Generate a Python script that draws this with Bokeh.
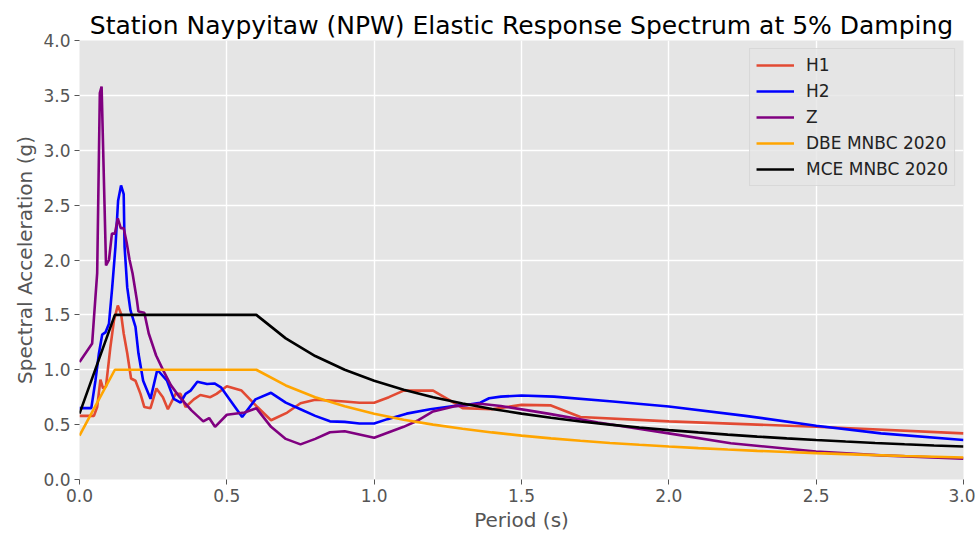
from bokeh.plotting import figure
from bokeh.embed import file_html
from bokeh.resources import INLINE
from bokeh.models import FixedTicker, NumeralTickFormatter, Legend, LegendItem, Range1d

# ---- data ----
h1_t = [0, 0.049, 0.06, 0.071, 0.08, 0.09, 0.105, 0.117, 0.13, 0.141, 0.15, 0.162, 0.175, 0.19,
        0.207, 0.22, 0.241, 0.261, 0.283, 0.3, 0.326, 0.343, 0.36, 0.388, 0.41, 0.444, 0.465,
        0.5, 0.55, 0.6, 0.65, 0.705, 0.75, 0.8, 0.85, 0.9, 0.95, 1.0, 1.05, 1.1, 1.2, 1.27, 1.3,
        1.4, 1.5, 1.6, 1.7, 2.0, 2.5, 3.0]
h1_sa = [0.58, 0.58, 0.66, 0.91, 0.83, 0.85, 1.21, 1.45, 1.585, 1.51, 1.33, 1.15, 0.92, 0.90,
         0.78, 0.66, 0.65, 0.83, 0.75, 0.64, 0.78, 0.78, 0.66, 0.73, 0.77, 0.75, 0.78,
         0.85, 0.81, 0.67, 0.54, 0.61, 0.695, 0.726, 0.72, 0.71, 0.70, 0.70, 0.75, 0.81, 0.81, 0.70, 0.65,
         0.64, 0.68, 0.675, 0.57, 0.53, 0.48, 0.42]

h2_t = [0, 0.04, 0.054, 0.066, 0.077, 0.088, 0.1, 0.111, 0.122, 0.131, 0.141, 0.15, 0.153, 0.162,
        0.173, 0.19, 0.2, 0.216, 0.241, 0.264, 0.297, 0.32, 0.343, 0.36, 0.377, 0.4, 0.433, 0.458,
        0.48, 0.512, 0.552, 0.597, 0.65, 0.7, 0.75, 0.8, 0.85, 0.9, 0.95, 1.0, 1.045, 1.11, 1.19,
        1.27, 1.316, 1.36, 1.39, 1.43, 1.5, 1.61, 1.81, 2.0, 2.26, 2.5, 2.72, 3.0]
h2_sa = [0.65, 0.65, 0.90, 1.15, 1.32, 1.34, 1.42, 1.75, 2.12, 2.54, 2.68, 2.60, 2.12, 1.75,
         1.54, 1.39, 1.15, 0.90, 0.735, 1.0, 0.90, 0.735, 0.70, 0.78, 0.81, 0.89, 0.87, 0.875,
         0.84, 0.72, 0.57, 0.73, 0.79, 0.70, 0.64, 0.58, 0.53, 0.525, 0.51, 0.51, 0.55, 0.60, 0.64,
         0.67, 0.68, 0.70, 0.74, 0.755, 0.765, 0.755, 0.71, 0.665, 0.58, 0.49, 0.42, 0.36]

z_t = [0, 0.043, 0.049, 0.06, 0.069, 0.075, 0.09, 0.1, 0.11, 0.12, 0.13, 0.14, 0.15, 0.16, 0.17,
       0.18, 0.195, 0.2, 0.22, 0.235, 0.26, 0.285, 0.31, 0.34, 0.38, 0.42, 0.44, 0.46, 0.5, 0.56,
       0.6, 0.65, 0.7, 0.75, 0.8, 0.85, 0.9, 0.95, 1.0, 1.05, 1.1, 1.15, 1.2, 1.27, 1.32, 1.36,
       1.43, 1.59, 1.76, 2.0, 2.21, 2.5, 2.72, 3.0]
z_sa = [1.07, 1.24, 1.47, 1.88, 3.52, 3.58, 1.95, 2.0, 2.24, 2.24, 2.38, 2.29, 2.29, 2.16, 2.0,
        1.88, 1.63, 1.53, 1.52, 1.33, 1.13, 0.99, 0.86, 0.75, 0.63, 0.53, 0.56, 0.48, 0.59, 0.61,
        0.65, 0.48, 0.37, 0.32, 0.37, 0.43, 0.44, 0.41, 0.38, 0.43, 0.48, 0.54, 0.62, 0.665, 0.68, 0.69,
        0.67, 0.60, 0.52, 0.42, 0.33, 0.255, 0.22, 0.19]

code_t = [0, 0.12, 0.6, 0.7, 0.8, 0.9, 1.0, 1.1, 1.2, 1.3, 1.4, 1.5, 1.6, 1.7, 1.8, 1.9, 2.0,
          2.1, 2.2, 2.3, 2.4, 2.5, 2.6, 2.7, 2.8, 2.9, 3.0]
dbe_sa = [0.4, 1.0, 1.0, 0.857, 0.75, 0.667, 0.6, 0.545, 0.5, 0.462, 0.429, 0.4, 0.375, 0.353,
          0.333, 0.316, 0.3, 0.286, 0.273, 0.261, 0.25, 0.24, 0.231, 0.222, 0.214, 0.207, 0.2]
mce_sa = [0.6, 1.5, 1.5, 1.286, 1.125, 1.0, 0.9, 0.818, 0.75, 0.692, 0.643, 0.6, 0.5625, 0.529,
          0.5, 0.474, 0.45, 0.429, 0.409, 0.391, 0.375, 0.36, 0.346, 0.333, 0.321, 0.31, 0.3]

x_ticks = [0.0, 0.5, 1.0, 1.5, 2.0, 2.5, 3.0]
y_ticks = [0.0, 0.5, 1.0, 1.5, 2.0, 2.5, 3.0, 3.5, 4.0]

FONT = "DejaVu Sans"
GRAY = "#555555"

p = figure(width=975, height=538, output_backend="svg", toolbar_location=None,
           x_range=Range1d(0, 3.0), y_range=Range1d(0, 4.0),
           min_border_left=79, min_border_right=12, min_border_top=40, min_border_bottom=59,
           title="Station Naypyitaw (NPW) Elastic Response Spectrum at 5% Damping")

p.title.text_font = FONT
p.title.text_font_size = "25px"
p.title.text_font_style = "normal"
p.title.text_color = "#000000"
p.title.align = "center"
p.title.standoff = 2

p.background_fill_color = "#E5E5E5"
p.border_fill_color = "white"
p.outline_line_color = None

for g in (p.xgrid[0], p.ygrid[0]):
    g.grid_line_color = "white"
    g.grid_line_width = 1.4

for ax in (p.xaxis[0], p.yaxis[0]):
    ax.axis_line_color = None
    ax.major_tick_line_color = GRAY
    ax.major_tick_in = 0
    ax.major_tick_out = 5
    ax.minor_tick_line_color = None
    ax.major_label_text_font = FONT
    ax.major_label_text_font_size = "17px"
    ax.major_label_text_color = GRAY
    ax.major_label_standoff = 4
    ax.axis_label_text_font = FONT
    ax.axis_label_text_font_size = "20px"
    ax.axis_label_text_color = GRAY
    ax.axis_label_text_font_style = "normal"
    ax.axis_label_standoff = 3
    ax.formatter = NumeralTickFormatter(format="0.0")

p.xaxis[0].ticker = FixedTicker(ticks=x_ticks)
p.yaxis[0].ticker = FixedTicker(ticks=y_ticks)
p.xaxis[0].axis_label = "Period (s)"
p.yaxis[0].axis_label = "Spectral Acceleration (g)"

LW = 2.6
r1 = p.line(h1_t, h1_sa, line_color="#E24A33", line_width=LW)
r2 = p.line(h2_t, h2_sa, line_color="#0000FF", line_width=LW)
r3 = p.line(z_t, z_sa, line_color="#800080", line_width=LW)
r4 = p.line(code_t, dbe_sa, line_color="#FFA500", line_width=LW)
r5 = p.line(code_t, mce_sa, line_color="#000000", line_width=LW)

legend = Legend(items=[LegendItem(label="H1", renderers=[r1]),
                       LegendItem(label="H2", renderers=[r2]),
                       LegendItem(label="Z", renderers=[r3]),
                       LegendItem(label="DBE MNBC 2020", renderers=[r4]),
                       LegendItem(label="MCE MNBC 2020", renderers=[r5])],
                location="top_right")
legend.background_fill_color = "#E5E5E5"
legend.background_fill_alpha = 0.8
legend.border_line_color = "#CCCCCC"
legend.label_text_font = FONT
legend.label_text_font_size = "17px"
legend.label_text_color = "#222222"
legend.glyph_width = 38
legend.glyph_height = 20
legend.label_height = 20
legend.spacing = 6
legend.padding = 6
legend.margin = 8
legend.label_standoff = 12
p.add_layout(legend)

open("out.html", "w").write(file_html(p, INLINE))
